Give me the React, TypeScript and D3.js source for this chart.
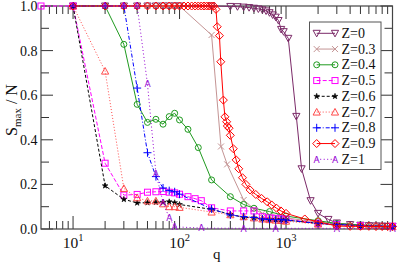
import React from 'react';
import * as d3 from 'd3';

// legend labels
const zLabels = ['Z=0', 'Z=0.3', 'Z=0.4', 'Z=0.5', 'Z=0.6', 'Z=0.7', 'Z=0.8', 'Z=0.9', 'Z=1'];

// q values and S_max/N for every Z
const qZ0 = [10, 20, 30, 40, 50, 60, 70, 80, 90, 100, 200, 300, 350, 400, 450, 500, 550, 600, 650, 700, 750, 800, 850, 900, 950, 1050, 1250, 1400, 1700, 2000, 2500, 3000, 4000, 5000, 6000, 7000, 8000, 9000, 10000];
const sZ0 = [1, 1, 1, 1, 1, 1, 1, 1, 1, 1, 1, 0.998, 0.997, 0.995, 0.993, 0.99, 0.987, 0.983, 0.978, 0.97, 0.96, 0.95, 0.935, 0.895, 0.885, 0.855, 0.505, 0.27, 0.127, 0.07, 0.043, 0.027, 0.02, 0.017, 0.015, 0.014, 0.013, 0.012, 0.012];

const qZ3 = [10, 20, 30, 40, 50, 60, 70, 80, 90, 100, 200, 245, 280, 400, 500, 600, 700, 800, 900, 1000, 2000, 3000, 4000, 5000, 7000, 10000];
const sZ3 = [1, 1, 1, 1, 1, 1, 1, 1, 1, 1, 0.87, 0.37, 0.29, 0.13, 0.09, 0.07, 0.062, 0.057, 0.053, 0.05, 0.03, 0.025, 0.02, 0.018, 0.016, 0.014];

const qZ4 = [10, 20, 30, 40, 50, 60, 70, 80, 90, 100, 120, 150, 200, 300, 400, 500, 700, 1000, 2000, 3000, 5000, 10000];
const sZ4 = [1, 1, 0.828, 0.559, 0.478, 0.492, 0.47, 0.504, 0.519, 0.489, 0.447, 0.365, 0.22, 0.145, 0.11, 0.093, 0.078, 0.058, 0.037, 0.025, 0.018, 0.012];

const qZ5 = [5, 10, 20, 30, 40, 50, 60, 70, 80, 90, 100, 120, 140, 160, 200, 300, 400, 500, 600, 700, 800, 900, 1000, 2000, 3000, 5000, 10000];
const sZ5 = [1, 1, 0.295, 0.152, 0.155, 0.165, 0.167, 0.168, 0.165, 0.162, 0.156, 0.145, 0.136, 0.127, 0.095, 0.081, 0.081, 0.081, 0.055, 0.05, 0.048, 0.046, 0.044, 0.025, 0.02, 0.015, 0.012];

const qZ6 = [10, 20, 30, 40, 50, 60, 70, 80, 90, 100, 200, 300, 400, 500, 600, 700, 800, 900, 1000, 2000, 3000, 5000, 10000];
const sZ6 = [1, 0.194, 0.133, 0.117, 0.118, 0.12, 0.12, 0.122, 0.118, 0.11, 0.088, 0.066, 0.052, 0.05, 0.045, 0.043, 0.042, 0.042, 0.04, 0.025, 0.02, 0.015, 0.01];

const qZ7 = [10, 20, 30, 40, 50, 60, 70, 80, 90, 100, 200, 300, 400, 500, 600, 700, 800, 900, 1000, 2000, 3000, 5000, 10000];
const sZ7 = [1, 0.708, 0.182, 0.14, 0.126, 0.126, 0.113, 0.1, 0.1, 0.097, 0.076, 0.064, 0.055, 0.05, 0.045, 0.042, 0.04, 0.038, 0.035, 0.022, 0.018, 0.013, 0.01];

const qZ8 = [10, 20, 30, 40, 50, 60, 70, 80, 90, 100, 200, 300, 400, 500, 600, 700, 800, 900, 1000, 2000, 3000, 5000, 10000];
const sZ8 = [1, 1, 1, 0.632, 0.342, 0.235, 0.184, 0.172, 0.167, 0.156, 0.09, 0.063, 0.055, 0.052, 0.045, 0.043, 0.042, 0.042, 0.04, 0.025, 0.02, 0.015, 0.012];

const qZ9 = [10, 20, 30, 40, 50, 60, 70, 80, 90, 100, 110, 120, 130, 140, 150, 160, 170, 180, 190, 200, 210, 220, 226, 237, 244, 258, 267, 277, 281, 292, 300, 320, 340, 360, 390, 420, 460, 520, 590, 666, 733, 816, 896, 1000, 1500, 2000, 3000, 4000, 5000, 6000, 7000, 8000, 9000, 10000];
const sZ9 = [1, 1, 1, 1, 1, 1, 1, 1, 1, 1, 1, 1, 1, 1, 1, 1, 1, 1, 1, 1, 1, 0.985, 0.907, 0.867, 0.75, 0.578, 0.503, 0.481, 0.462, 0.452, 0.42, 0.36, 0.31, 0.27, 0.23, 0.2, 0.175, 0.155, 0.137, 0.122, 0.108, 0.093, 0.081, 0.07, 0.045, 0.033, 0.013, 0.012, 0.012, 0.012, 0.011, 0.011, 0.011, 0.011];

const qZ10 = [10, 20, 30, 40, 50, 60, 70, 80, 90, 160, 400, 800, 3000, 10000];
const sZ10 = [1, 1, 1, 1, 0.65, 0.25, 0.12, 0.05, 0.01, 0.004, 0.003, 0.003, 0.003, 0.003];

const yTicks = [0, 0.2, 0.4, 0.6, 0.8, 1.0];

const qs = [qZ0, qZ3, qZ4, qZ5, qZ6, qZ7, qZ8, qZ9, qZ10];
const ss = [sZ0, sZ3, sZ4, sZ5, sZ6, sZ7, sZ8, sZ9, sZ10];

const styles = [
  { color: '#7b2a68', dash: null, marker: 'tdown' },
  { color: '#c49494', dash: null, marker: 'x' },
  { color: '#1f9a1f', dash: null, marker: 'circle' },
  { color: '#ff00ff', dash: '4,2', marker: 'square' },
  { color: '#000000', dash: '3,2', marker: 'star' },
  { color: '#ff4a4a', dash: '1,2', marker: 'tup' },
  { color: '#0000ff', dash: '4,2,1,2', marker: 'plus' },
  { color: '#ff0000', dash: null, marker: 'diamond' },
  { color: '#9400d3', dash: '1,2.5', marker: 'A' },
];

const font = "'Liberation Serif', 'DejaVu Serif', 'Times New Roman', Times, serif";

function Marker({ type, cx, cy, color }: { type: string; cx: number; cy: number; color: string }) {
  switch (type) {
    case 'tdown':
      return <polygon points={`${cx - 3.6},${cy - 3} ${cx + 3.6},${cy - 3} ${cx},${cy + 3.6}`} fill="none" stroke={color} />;
    case 'x':
      return <path d={`M${cx - 3},${cy - 3}L${cx + 3},${cy + 3}M${cx - 3},${cy + 3}L${cx + 3},${cy - 3}`} stroke={color} />;
    case 'circle':
      return <circle cx={cx} cy={cy} r={3} fill="none" stroke={color} />;
    case 'square':
      return <rect x={cx - 3} y={cy - 3} width={6} height={6} fill="none" stroke={color} />;
    case 'star':
      return <path d={d3.symbol(d3.symbolStar, 10)() as string} transform={`translate(${cx},${cy})`} fill={color} stroke={color} strokeWidth={0.6} />;
    case 'tup':
      return <polygon points={`${cx - 3.6},${cy + 3} ${cx + 3.6},${cy + 3} ${cx},${cy - 3.6}`} fill="none" stroke={color} />;
    case 'plus':
      return <path d={`M${cx - 4},${cy}L${cx + 4},${cy}M${cx},${cy - 4}L${cx},${cy + 4}`} stroke={color} />;
    case 'diamond':
      return <polygon points={`${cx},${cy - 4} ${cx + 4},${cy} ${cx},${cy + 4} ${cx - 4},${cy}`} fill="none" stroke={color} />;
    default:
      return <text x={cx} y={cy + 3.3} fontSize={9} fontFamily="DejaVu Sans, sans-serif" textAnchor="middle" fill={color}>A</text>;
  }
}

export default function App() {
  const left = 41, right = 392.5, top = 6, bottom = 229;
  const x = d3.scaleLog().domain([5, 10000]).range([left, right]);
  const y = d3.scaleLinear().domain([0, 1]).range([bottom, top]);

  const xt = x.ticks().filter(t => t > 5 && t < 10000);
  const isMajor = (t: number) => Math.abs(Math.log10(t) - Math.round(Math.log10(t))) < 1e-9;
  const yt = y.ticks(10);

  const line = d3.line<[number, number]>().x(d => x(d[0])).y(d => y(d[1]));

  const tickColor = '#333';

  return (
    <svg width={402} height={263} style={{ position: 'absolute', left: 0, top: 0, background: '#fff', fontFamily: font }}>
      <rect x={0} y={0} width={402} height={263} fill="#fff" />
      {/* ticks */}
      {xt.map((t, i) => {
        const len = isMajor(t) ? 13 : 8;
        const px = x(t);
        return (
          <g key={'xt' + i} stroke={tickColor} strokeWidth={1}>
            <line x1={px} x2={px} y1={bottom} y2={bottom - len} />
            <line x1={px} x2={px} y1={top} y2={top + len} />
          </g>
        );
      })}
      {yt.map((t, i) => {
        const len = i % 2 === 0 ? 12 : 8;
        const py = y(t);
        return (
          <g key={'yt' + i} stroke={tickColor} strokeWidth={1}>
            <line x1={left} x2={left + len} y1={py} y2={py} />
            <line x1={right} x2={right - len} y1={py} y2={py} />
          </g>
        );
      })}
      <rect x={left} y={top} width={right - left} height={bottom - top} fill="none" stroke="#444" strokeWidth={1.2} />

      {/* series */}
      {qs.map((q, i) => {
        const pts = q.map((v, j) => [v, ss[i][j]] as [number, number]);
        const st = styles[i];
        return (
          <g key={'s' + i}>
            <path d={line(pts) as string} fill="none" stroke={st.color} strokeWidth={1} strokeDasharray={st.dash || undefined} />
            {pts.map((p, j) => (
              <Marker key={j} type={st.marker} cx={x(p[0])} cy={y(p[1])} color={st.color} />
            ))}
          </g>
        );
      })}

      {/* tick labels */}
      {yTicks.map((t, i) => (
        <text key={'yl' + i} x={37.5} y={y(t) + 5} textAnchor="end" fontSize={14} fill="#111">
          {d3.format('.1f')(t)}
        </text>
      ))}
      {xt.filter(isMajor).map((t, i) => (
        <text key={'xl' + i} x={x(t)} y={248} textAnchor="middle" fontSize={15.5} fill="#111">
          <tspan>10</tspan>
          <tspan dy={-7} fontSize={10.5}>{Math.round(Math.log10(t))}</tspan>
        </text>
      ))}
      <text x={(left + right) / 2} y={258.5} textAnchor="middle" fontSize={15} fill="#111">q</text>
      <text transform="translate(17,110) rotate(-90)" textAnchor="middle" fontSize={16} fill="#111">
        <tspan>S</tspan>
        <tspan dy={4} fontSize={11}>max</tspan>
        <tspan dy={-4}>{'\u00a0/\u00a0N'}</tspan>
      </text>

      {/* legend */}
      <rect x={309.5} y={22} width={71.5} height={147.5} fill="#fff" stroke="#555" strokeWidth={1} />
      {zLabels.map((lab, i) => {
        const ly = 33.3 + i * 15.75;
        const st = styles[i];
        return (
          <g key={'lg' + i}>
            <line x1={316.7} x2={335} y1={ly} y2={ly} stroke={st.color} strokeWidth={1} strokeDasharray={st.dash || undefined} />
            <Marker type={st.marker} cx={316.7} cy={ly} color={st.color} />
            <Marker type={st.marker} cx={335} cy={ly} color={st.color} />
            <text x={341.5} y={ly + 4.6} fontSize={14} fill="#111">{lab}</text>
          </g>
        );
      })}
    </svg>
  );
}
